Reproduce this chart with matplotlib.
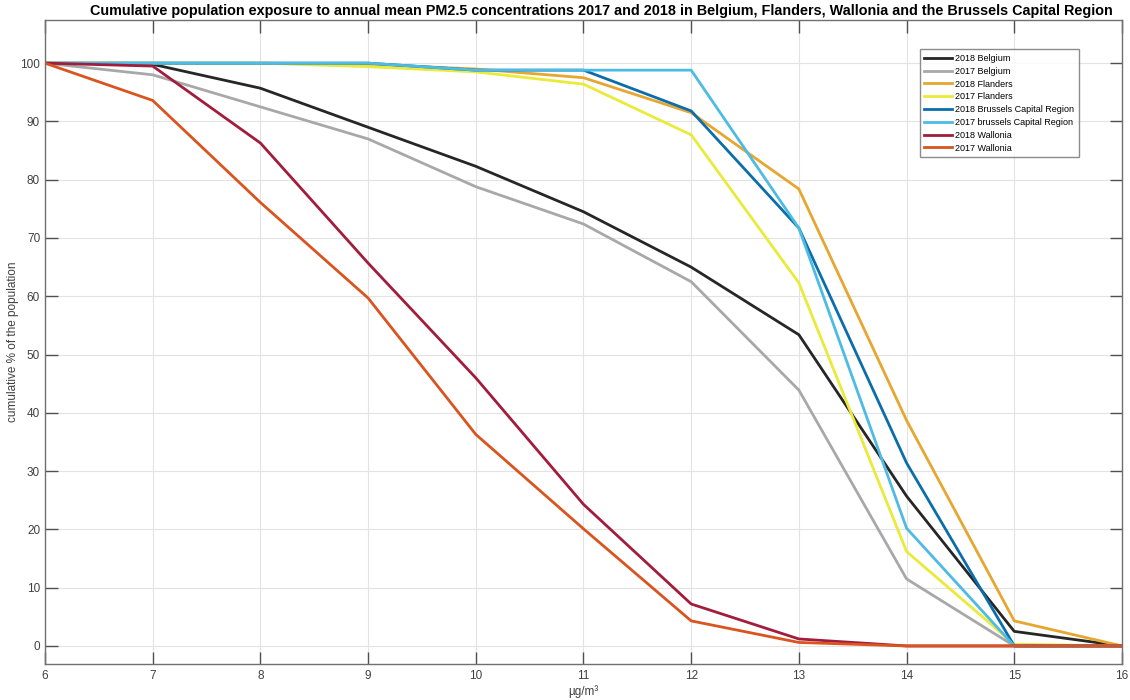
import matplotlib
matplotlib.use("Agg")
import matplotlib.pyplot as plt

plt.rcParams['font.family'] = ['Liberation Sans', 'DejaVu Sans']

x = [6, 7, 8, 9, 10, 11, 12, 13, 14, 15, 16]

belgium_2018 = [100, 99.8, 95.7, 89.0, 82.3, 74.5, 65.0, 53.4, 25.7, 2.5, 0]
belgium_2017 = [100, 98.0, 92.5, 87.0, 78.8, 72.4, 62.5, 43.9, 11.5, 0, 0]
flanders_2018 = [100, 100, 100, 99.8, 99.0, 97.5, 91.5, 78.4, 38.7, 4.3, 0]
flanders_2017 = [100, 100, 100, 99.4, 98.5, 96.4, 87.7, 62.3, 16.2, 0.3, 0]
brussels_2018 = [100, 100, 100, 100, 98.8, 98.8, 91.8, 71.7, 31.4, 0, 0]
brussels_2017 = [100, 100, 100, 100, 98.8, 98.8, 98.8, 71.7, 20.2, 0, 0]
wallonia_2018 = [100, 99.5, 86.3, 65.7, 46.0, 24.3, 7.2, 1.2, 0, 0, 0]
wallonia_2017 = [100, 93.6, 76.1, 59.7, 36.3, 20.1, 4.3, 0.6, 0, 0, 0]

labels = ["2018 Belgium", "2017 Belgium", "2018 Flanders", "2017 Flanders",
          "2018 Brussels Capital Region", "2017 brussels Capital Region",
          "2018 Wallonia", "2017 Wallonia"]
series = [belgium_2018, belgium_2017, flanders_2018, flanders_2017,
          brussels_2018, brussels_2017, wallonia_2018, wallonia_2017]
colors = ["#262626", "#a8a8a8", "#e6a630", "#eaea3a",
          "#0b6eaa", "#4dbbe3", "#a21c3c", "#d9541e"]

fig = plt.figure(figsize=(11.3, 7), dpi=100)
ax = fig.add_axes([0.0398, 0.0514, 0.9531, 0.92])

for ys, lab, c in zip(series, labels, colors):
    ax.plot(x, ys, color=c, lw=2, label=lab)

ax.set_xlim(6, 16)
ax.set_ylim(-3.1, 107.4)
ax.set_xticks(range(6, 17))
ax.set_yticks(range(0, 101, 10))
ax.grid(True, color="#e3e3e3", lw=0.8)
ax.set_axisbelow(True)
for s in ax.spines.values():
    s.set_color("#707070")
    s.set_linewidth(1.0)
ax.tick_params(direction="in", length=9, width=1, color="#505050",
               labelsize=8.5, labelcolor="#404040",
               top=True, right=True)
ax.tick_params(axis="x", pad=4.5)
ax.tick_params(axis="y", pad=3.5)

ax.set_title("Cumulative population exposure to annual mean PM2.5 concentrations 2017 and 2018 in Belgium, Flanders, Wallonia and the Brussels Capital Region",
             fontsize=10.4, fontweight="bold", pad=3.5, x=0.517)
ax.set_xlabel("µg/m³", fontsize=8.5, color="#404040", labelpad=2)
ax.set_ylabel("cumulative % of the population", fontsize=8.5, color="#404040", labelpad=1)

leg = ax.legend(loc="upper left", bbox_to_anchor=(0.812, 0.955), fontsize=6.5,
                frameon=True, fancybox=False, edgecolor="#707070",
                handlelength=3.1, handletextpad=0.25, labelspacing=0.42,
                borderpad=0.55, borderaxespad=0)
leg.get_frame().set_linewidth(1.0)

fig.savefig("out.png", dpi=100)
